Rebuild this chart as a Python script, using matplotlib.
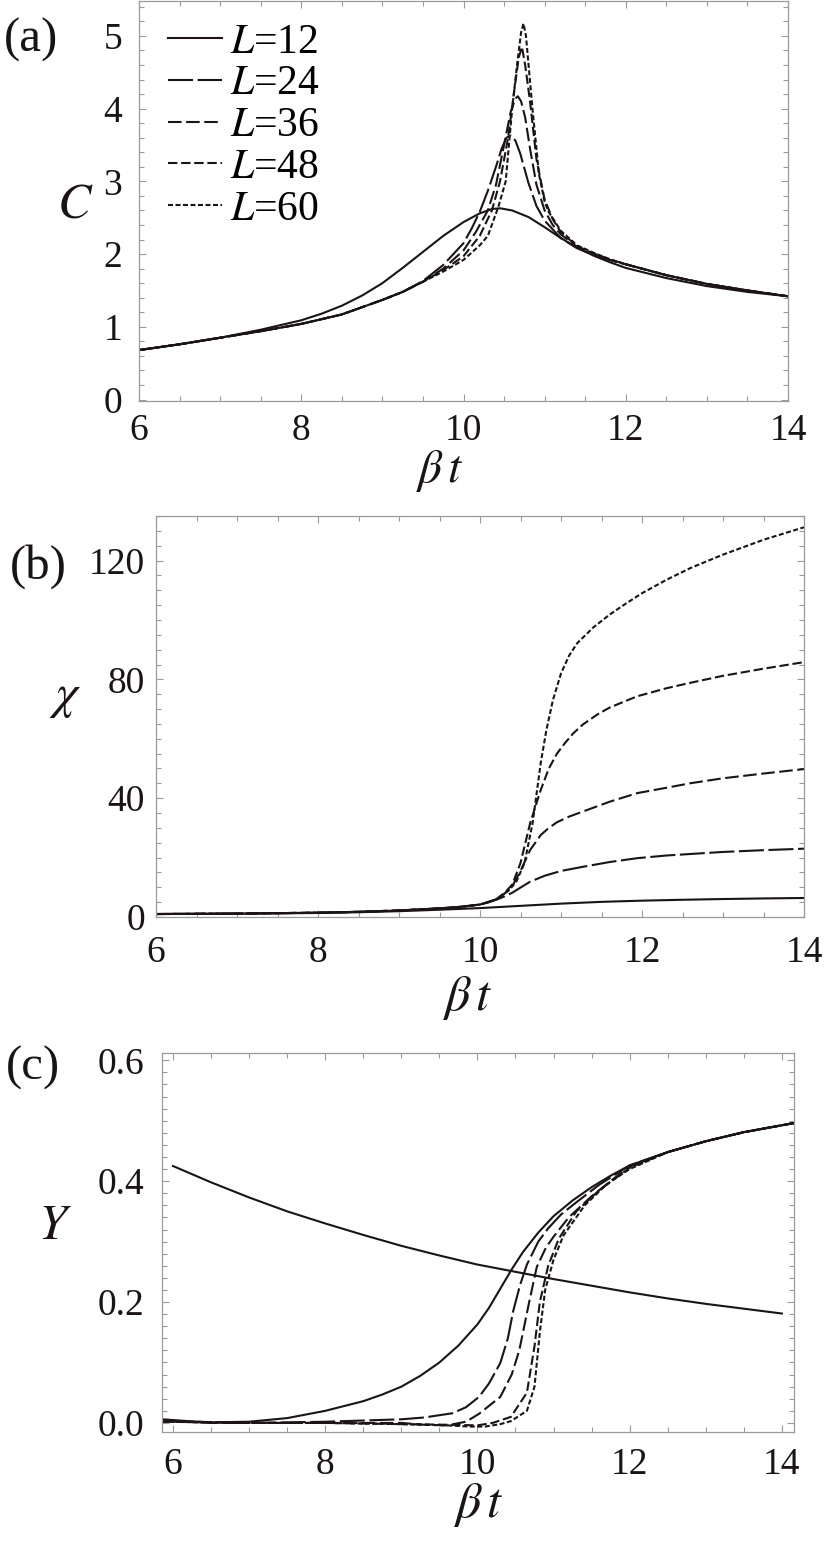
import numpy as np
import matplotlib
matplotlib.use("Agg")
import matplotlib.pyplot as plt
from matplotlib.ticker import MultipleLocator, FormatStrFormatter

plt.rcParams['font.family'] = ['Liberation Serif', 'DejaVu Serif']
plt.rcParams['mathtext.fontset'] = 'stix'

INK = '#1a1414'
GRID = '#9a9a9a'

# ---- panel (a): specific heat C ----
ca_x12 = [6, 6.5, 7, 7.5, 8, 8.25, 8.5, 8.75, 9, 9.25, 9.5, 9.75, 10, 10.2, 10.35, 10.45, 10.6, 10.8, 11, 11.2, 11.4, 11.6, 11.8, 12, 12.25, 12.5, 13, 13.5, 14]
ca_12 = [0.68, 0.76, 0.85, 0.96, 1.09, 1.18, 1.29, 1.43, 1.6, 1.81, 2.03, 2.25, 2.44, 2.56, 2.62, 2.63, 2.6, 2.51, 2.37, 2.22, 2.09, 1.98, 1.89, 1.81, 1.74, 1.67, 1.56, 1.48, 1.42]

ca_x24 = [6, 6.5, 7, 7.5, 8, 8.5, 9, 9.25, 9.5, 9.75, 10, 10.1, 10.2, 10.3, 10.4, 10.47, 10.53, 10.58, 10.64, 10.7, 10.8, 10.9, 11, 11.2, 11.4, 11.6, 11.8, 12, 12.5, 13, 13.5, 14]
ca_24 = [0.68, 0.76, 0.85, 0.94, 1.04, 1.17, 1.37, 1.48, 1.63, 1.85, 2.15, 2.35, 2.58, 2.87, 3.2, 3.45, 3.6, 3.63, 3.56, 3.38, 2.98, 2.66, 2.46, 2.22, 2.08, 1.99, 1.92, 1.86, 1.71, 1.59, 1.5, 1.42]

ca_x36 = [6, 6.5, 7, 7.5, 8, 8.5, 9, 9.25, 9.5, 9.75, 10, 10.15, 10.3, 10.4, 10.5, 10.58, 10.64, 10.67, 10.71, 10.76, 10.82, 10.9, 11, 11.1, 11.2, 11.4, 11.6, 11.8, 12, 12.5, 13, 13.5, 14]
ca_36 = [0.68, 0.76, 0.85, 0.94, 1.04, 1.17, 1.37, 1.48, 1.62, 1.8, 2.05, 2.3, 2.6, 2.95, 3.5, 3.95, 4.14, 4.17, 4.1, 3.88, 3.45, 2.95, 2.6, 2.4, 2.27, 2.1, 2.0, 1.92, 1.86, 1.71, 1.59, 1.5, 1.42]

ca_x48 = [6, 6.5, 7, 7.5, 8, 8.5, 9, 9.25, 9.5, 9.75, 10, 10.2, 10.35, 10.45, 10.55, 10.62, 10.68, 10.72, 10.76, 10.82, 10.9, 11, 11.1, 11.2, 11.4, 11.6, 11.8, 12, 12.5, 13, 13.5, 14]
ca_48 = [0.68, 0.76, 0.85, 0.94, 1.04, 1.17, 1.37, 1.48, 1.62, 1.78, 1.97, 2.25, 2.6, 3.0, 3.6, 4.2, 4.7, 4.85, 4.6, 4.1, 3.3, 2.75, 2.48, 2.3, 2.11, 2.01, 1.93, 1.86, 1.71, 1.59, 1.5, 1.42]

ca_x60 = [6, 6.5, 7, 7.5, 8, 8.5, 9, 9.25, 9.5, 9.75, 10, 10.2, 10.3, 10.43, 10.52, 10.6, 10.66, 10.71, 10.74, 10.77, 10.81, 10.85, 10.93, 11, 11.05, 11.2, 11.4, 11.6, 11.8, 12, 12.5, 13, 13.5, 14]
ca_60 = [0.68, 0.76, 0.85, 0.94, 1.04, 1.17, 1.37, 1.48, 1.62, 1.76, 1.92, 2.12, 2.25, 2.65, 3.0, 4.0, 4.6, 5.05, 5.17, 5.0, 4.5, 4.0, 3.1, 2.72, 2.58, 2.32, 2.12, 2.02, 1.93, 1.86, 1.71, 1.59, 1.5, 1.42]

# ---- panel (b): susceptibility chi ----
cb_x12 = [6, 7, 8, 8.5, 9, 9.5, 10, 10.5, 11, 11.5, 12, 12.5, 13, 13.5, 14]
cb_12 = [1.0, 1.1, 1.35, 1.6, 1.95, 2.45, 3.0, 3.75, 4.5, 5.1, 5.5, 5.8, 6.05, 6.25, 6.4]

cb_low_x = [6, 7, 8, 8.5, 9, 9.5, 9.75, 10]
cb_low = [1.0, 1.15, 1.45, 1.75, 2.2, 2.9, 3.4, 4.2]

cb_x24 = [10.1, 10.2, 10.3, 10.4, 10.5, 10.62, 10.8, 11, 11.27, 11.6, 11.94, 12.3, 12.59, 13, 13.5, 14]
cb_24 = [4.9, 5.8, 6.9, 8.2, 9.9, 11.9, 13.9, 15.5, 16.9, 18.5, 19.8, 20.7, 21.2, 21.9, 22.5, 23.0]

cb_x36 = [10.1, 10.2, 10.3, 10.4, 10.5, 10.62, 10.75, 10.85, 10.95, 11.1, 11.27, 11.6, 11.94, 12.3, 12.59, 13, 13.5, 14]
cb_36 = [5.0, 6.0, 7.8, 10.5, 15.5, 22.6, 27.6, 30.0, 31.9, 33.8, 35.5, 38.8, 41.7, 43.5, 45.0, 46.7, 48.3, 49.8]

cb_x48 = [10.1, 10.2, 10.3, 10.4, 10.5, 10.62, 10.75, 10.85, 10.95, 11.05, 11.15, 11.27, 11.45, 11.6, 11.94, 12.3, 12.59, 13, 13.5, 14]
cb_48 = [5.0, 6.0, 8.0, 11.0, 18.2, 31.7, 42.8, 50.0, 55.0, 58.6, 61.8, 64.8, 68.2, 70.5, 74.3, 77.0, 78.8, 81.2, 83.6, 85.8]

cb_x60 = [10.1, 10.2, 10.36, 10.45, 10.55, 10.65, 10.75, 10.82, 10.9, 11.0, 11.1, 11.2, 11.4, 11.6, 11.8, 12, 12.3, 12.6, 13, 13.5, 14]
cb_60 = [5.0, 6.0, 9.0, 12.0, 18.2, 31.7, 51.9, 63.0, 73.0, 82.0, 88.0, 92.2, 97.5, 101.8, 105.5, 109.0, 113.5, 117.5, 122.0, 127.0, 131.2]

# ---- panel (c): Y ----
cc_xdec = [6, 6.5, 7, 7.5, 8, 8.5, 9, 9.5, 10, 10.5, 11, 11.5, 12, 12.5, 13, 13.5, 14]
cc_dec = [0.425, 0.398, 0.373, 0.350, 0.330, 0.311, 0.293, 0.277, 0.262, 0.250, 0.238, 0.227, 0.216, 0.206, 0.197, 0.189, 0.181]

cc_x12 = [5.86, 6.2, 6.5, 7, 7.5, 8, 8.5, 8.75, 9, 9.25, 9.5, 9.75, 10, 10.15, 10.3, 10.45, 10.6, 10.8, 11, 11.25, 11.5, 11.75, 12, 12.5, 13, 13.5, 14.2]
cc_12 = [0.006, 0.003, 0.001, 0.002, 0.008, 0.02, 0.036, 0.047, 0.06, 0.078, 0.1, 0.128, 0.163, 0.19, 0.222, 0.254, 0.283, 0.315, 0.342, 0.368, 0.39, 0.409, 0.426, 0.448, 0.466, 0.481, 0.497]

cc_x24 = [5.86, 6.5, 7, 8, 9, 9.3, 9.67, 9.85, 10.02, 10.15, 10.3, 10.4, 10.47, 10.56, 10.65, 10.8, 10.93, 11.1, 11.3, 11.6, 12, 12.5, 13, 13.5, 14.2]
cc_24 = [0.004, 0.0, 0.0, 0.002, 0.006, 0.009, 0.016, 0.026, 0.043, 0.065, 0.099, 0.14, 0.185, 0.228, 0.262, 0.3, 0.322, 0.345, 0.365, 0.394, 0.426, 0.448, 0.466, 0.481, 0.497]

cc_x36 = [5.86, 7, 8, 9, 9.3, 9.6, 9.85, 10.02, 10.3, 10.45, 10.55, 10.68, 10.78, 10.9, 11.0, 11.2, 11.5, 11.8, 12, 12.5, 13, 13.5, 14.2]
cc_36 = [0.003, 0.0, 0.0, 0.0, -0.003, -0.004, 0.002, 0.015, 0.043, 0.08, 0.12, 0.2, 0.258, 0.29, 0.308, 0.34, 0.375, 0.405, 0.424, 0.448, 0.466, 0.481, 0.497]

cc_x48 = [5.86, 7, 8, 9, 9.6, 10.0, 10.2, 10.44, 10.65, 10.75, 10.82, 10.93, 11.07, 11.3, 11.6, 12, 12.5, 13, 13.5, 14.2]
cc_48 = [0.002, 0.0, 0.0, -0.002, -0.003, -0.004, 0.0, 0.01, 0.05, 0.127, 0.2, 0.26, 0.305, 0.35, 0.385, 0.422, 0.448, 0.466, 0.481, 0.497]

cc_x60 = [5.86, 7, 8, 9, 9.6, 9.9, 10.1, 10.3, 10.44, 10.65, 10.75, 10.82, 10.89, 11.0, 11.13, 11.41, 11.7, 12, 12.5, 13, 13.5, 14.2]
cc_60 = [0.002, 0.0, 0.0, -0.002, -0.004, -0.006, -0.006, -0.002, 0.003, 0.02, 0.06, 0.15, 0.22, 0.27, 0.31, 0.36, 0.395, 0.42, 0.448, 0.466, 0.481, 0.497]

labels = [r'$L$=12', r'$L$=24', r'$L$=36', r'$L$=48', r'$L$=60']
styles = ['-', (0, (12, 2.2)), (0, (6.5, 2.2)), (0, (4.5, 1.8)), (0, (2.4, 1.2))]
LW = 1.5

W, H = 830, 1550
fig = plt.figure(figsize=(W / 100, H / 100), dpi=100)


def px_axes(x0, y0, x1, y1):
    return fig.add_axes([x0 / W, 1 - y1 / H, (x1 - x0) / W, (y1 - y0) / H])


def style_axes(ax, xmaj, xmin, ymaj, ymin, ypad, xpad):
    ax.xaxis.set_major_locator(MultipleLocator(xmaj))
    ax.xaxis.set_minor_locator(MultipleLocator(xmin))
    ax.yaxis.set_major_locator(MultipleLocator(ymaj))
    ax.yaxis.set_minor_locator(MultipleLocator(ymin))
    ax.tick_params(which='both', direction='in', top=True, right=True,
                   color=GRID, width=0.8, labelsize=27, labelcolor=INK)
    ax.tick_params(which='major', length=5)
    ax.tick_params(which='minor', length=3.5)
    ax.tick_params(axis='y', which='major', pad=ypad)
    ax.tick_params(axis='x', which='major', pad=xpad)
    for s in ax.spines.values():
        s.set_color(GRID)
        s.set_linewidth(0.9)


def fig_text(x, y, s, size, **kw):
    fig.text(x / W, 1 - y / H, s, fontsize=size, ha='center', va='center', color=INK, **kw)


# (a)
ax1 = px_axes(139, 1, 788, 401)
ax1.plot(ca_x12, ca_12, color=INK, lw=LW, ls=styles[0], label=labels[0])
ax1.plot(ca_x24, ca_24, color=INK, lw=LW, ls=styles[1], label=labels[1])
ax1.plot(ca_x36, ca_36, color=INK, lw=LW, ls=styles[2], label=labels[2])
ax1.plot(ca_x48, ca_48, color=INK, lw=LW, ls=styles[3], label=labels[3])
ax1.plot(ca_x60, ca_60, color=INK, lw=LW, ls=styles[4], label=labels[4])
ax1.set_xlim(6, 14)
ax1.set_ylim(-0.02, 5.48)
style_axes(ax1, 2, 0.5, 1, 0.2, 12, 9)
ax1.legend(loc='upper left', bbox_to_anchor=(0.044, 0.945), frameon=False, fontsize=30,
           handlelength=1.3, handletextpad=0.2, labelspacing=0.08, borderaxespad=0, borderpad=0)

# (b)
ax2 = px_axes(156, 516, 804, 917)
ax2.plot(cb_x12, cb_12, color=INK, lw=LW, ls=styles[0])
ax2.plot(cb_low_x + cb_x24, cb_low + cb_24, color=INK, lw=LW, ls=styles[1])
ax2.plot(cb_low_x + cb_x36, cb_low + cb_36, color=INK, lw=LW, ls=styles[2])
ax2.plot(cb_low_x + cb_x48, cb_low + cb_48, color=INK, lw=LW, ls=styles[3])
ax2.plot(cb_low_x + cb_x60, cb_low + cb_60, color=INK, lw=LW, ls=styles[4])
ax2.set_xlim(6, 14)
ax2.set_ylim(0, 135)
style_axes(ax2, 2, 0.5, 40, 5, 8, 13)

# (c)
ax3 = px_axes(162, 1053, 794, 1432)
ax3.plot(cc_xdec, cc_dec, color=INK, lw=LW, ls='-')
ax3.plot(cc_x12, cc_12, color=INK, lw=LW, ls=styles[0])
ax3.plot(cc_x24, cc_24, color=INK, lw=LW, ls=styles[1])
ax3.plot(cc_x36, cc_36, color=INK, lw=LW, ls=styles[2])
ax3.plot(cc_x48, cc_48, color=INK, lw=LW, ls=styles[3])
ax3.plot(cc_x60, cc_60, color=INK, lw=LW, ls=styles[4])
ax3.set_xlim(5.855, 14.16)
ax3.set_ylim(-0.015, 0.612)
style_axes(ax3, 2, 0.5, 0.2, 0.02, 13, 11)
ax3.yaxis.set_major_formatter(FormatStrFormatter('%.1f'))

# labels
fig_text(31, 40, '(a)', 35)
fig_text(75, 205, r'$C$', 36)
fig_text(440, 471, r'$\beta\,t$', 34)
fig_text(38, 567, '(b)', 35)
fig_text(65, 697, r'$\chi$', 36)
fig_text(467, 998, r'$\beta\,t$', 36)
fig_text(33, 1068, '(c)', 35)
fig_text(55, 1227, r'$Y$', 36)
fig_text(478, 1505, r'$\beta\,t$', 36)

fig.savefig('out.png', dpi=100)
